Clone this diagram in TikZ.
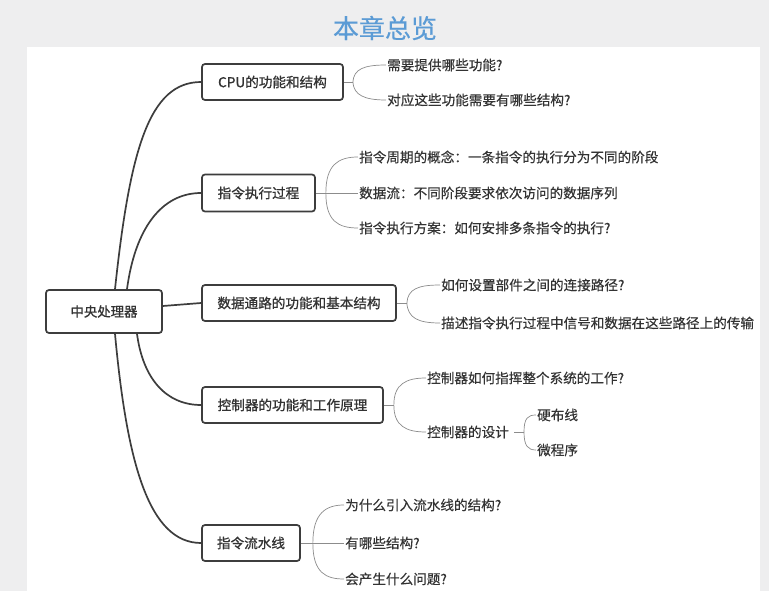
\documentclass[tikz,border=0pt]{standalone}
\usepackage{fontspec}
\setmainfont{Noto Sans CJK SC}[FakeBold=0.4]
\newfontfamily\boxfont{Noto Sans CJK SC}[FakeBold=1.0]
\definecolor{bgc}{HTML}{EEEEEF}
\definecolor{boxc}{HTML}{3D3D3D}
\definecolor{txt}{HTML}{333333}
\definecolor{leafc}{HTML}{8C8C8C}
\definecolor{titleblue}{HTML}{5B9BD5}
\tikzset{
  branchbox/.style={draw=boxc, line width=1.7pt, rounded corners=3pt, fill=white,
    text=txt, font=\boxfont\fontsize{13.6}{15}\selectfont, inner sep=0pt, minimum height=36pt},
  leaftext/.style={anchor=west, inner sep=1pt, text=txt, font=\fontsize{13.6}{15}\selectfont},
  mainline/.style={draw=boxc, line width=1.7pt},
  leafline/.style={draw=leafc, line width=0.7pt}
}
\begin{document}
\begin{tikzpicture}[x=1pt,y=-1pt]
\useasboundingbox (0,0) rectangle (769,591);
\fill[bgc] (0,0) rectangle (769,591);
\fill[white] (27,47) rectangle (760,591);
\node[font=\fontsize{26}{30}\selectfont, text=titleblue] (title) at (385,28) {本章总览};

% centre and branches
\node[branchbox, minimum width=116pt, minimum height=43pt, font=\boxfont\fontsize{13.4}{15}\selectfont] (c) at (104,311.5) {中央处理器};
\node[branchbox, minimum width=141pt] (b1) at (272.5,82) {CPU的功能和结构};
\node[branchbox, minimum width=113pt, minimum height=37pt] (b2) at (258.5,193) {指令执行过程};
\node[branchbox, minimum width=194pt] (b3) at (299,303) {数据通路的功能和基本结构};
\node[branchbox, minimum width=181pt] (b4) at (292.5,405) {控制器的功能和工作原理};
\node[branchbox, minimum width=98pt] (b5) at (251,543) {指令流水线};

\draw[mainline] ([xshift=11pt]c.north) .. controls +(15,-140) and +(-52,0) .. (b1.west);
\draw[mainline] ([xshift=23pt]c.north) .. controls +(8,-60) and +(-40,0) .. (b2.west);
\draw[mainline] ([yshift=5.5pt]c.east) .. controls +(20,-2) .. (b3.west);
\draw[mainline] ([xshift=33pt]c.south) .. controls +(6,45) and +(-35,0) .. (b4.west);
\draw[mainline] ([xshift=11pt]c.south) .. controls +(12,130) and +(-52,0) .. (b5.west);

% leaves
\node[leaftext] (l11) at (386,65) {需要提供哪些功能?};
\node[leaftext] (l12) at (386,100) {对应这些功能需要有哪些结构?};
\node[leaftext] (l21) at (358,157) {指令周期的概念：一条指令的执行分为不同的阶段};
\node[leaftext] (l22) at (358,193) {数据流：不同阶段要求依次访问的数据序列};
\node[leaftext] (l23) at (358,228) {指令执行方案：如何安排多条指令的执行?};
\node[leaftext] (l31) at (440,285) {如何设置部件之间的连接路径?};
\node[leaftext] (l32) at (440,323) {描述指令执行过程中信号和数据在这些路径上的传输};
\node[leaftext] (l41) at (426,378) {控制器如何指挥整个系统的工作?};
\node[leaftext] (l42) at (426,432) {控制器的设计};
\node[leaftext] (l421) at (536,415) {硬布线};
\node[leaftext] (l422) at (536,450) {微程序};
\node[leaftext] (l51) at (344,505) {为什么引入流水线的结构?};
\node[leaftext] (l52) at (344,543) {有哪些结构?};
\node[leaftext] (l53) at (344,579) {会产生什么问题?};

% leaf connectors
\draw[leafline] (b1.east) -- ++(9,0) coordinate (s1);
\draw[leafline] (s1) .. controls +(1,-13) and +(-22,0) .. (l11.west);
\draw[leafline] (s1) .. controls +(1,13) and +(-22,0) .. (l12.west);

\draw[leafline] (b2.east) -- ++(10,0) coordinate (s2);
\draw[leafline] (s2) .. controls +(0,-28) and +(-20,0) .. (l21.west);
\draw[leafline] (s2) -- (l22.west);
\draw[leafline] (s2) .. controls +(0,28) and +(-20,0) .. (l23.west);

\draw[leafline] (b3.east) -- ++(10,0) coordinate (s3);
\draw[leafline] (s3) .. controls +(1,-14) and +(-22,0) .. (l31.west);
\draw[leafline] (s3) .. controls +(1,15) and +(-22,0) .. (l32.west);

\draw[leafline] (b4.east) -- ++(10,0) coordinate (s4);
\draw[leafline] (s4) .. controls +(0,-21) and +(-20,0) .. (l41.west);
\draw[leafline] (s4) .. controls +(0,21) and +(-20,0) .. (l42.west);

\draw[leafline] ([xshift=4pt]l42.east) -- ++(10,0) coordinate (s5);
\draw[leafline] (s5) .. controls +(0,-14) and +(-8,0) .. (l421.west);
\draw[leafline] (s5) .. controls +(0,14) and +(-8,0) .. (l422.west);

\draw[leafline] (b5.east) -- ++(12,0) coordinate (s6);
\draw[leafline] (s6) .. controls +(0,-30) and +(-18,0) .. (l51.west);
\draw[leafline] (s6) -- (l52.west);
\draw[leafline] (s6) .. controls +(0,30) and +(-18,0) .. (l53.west);
\end{tikzpicture}
\end{document}
